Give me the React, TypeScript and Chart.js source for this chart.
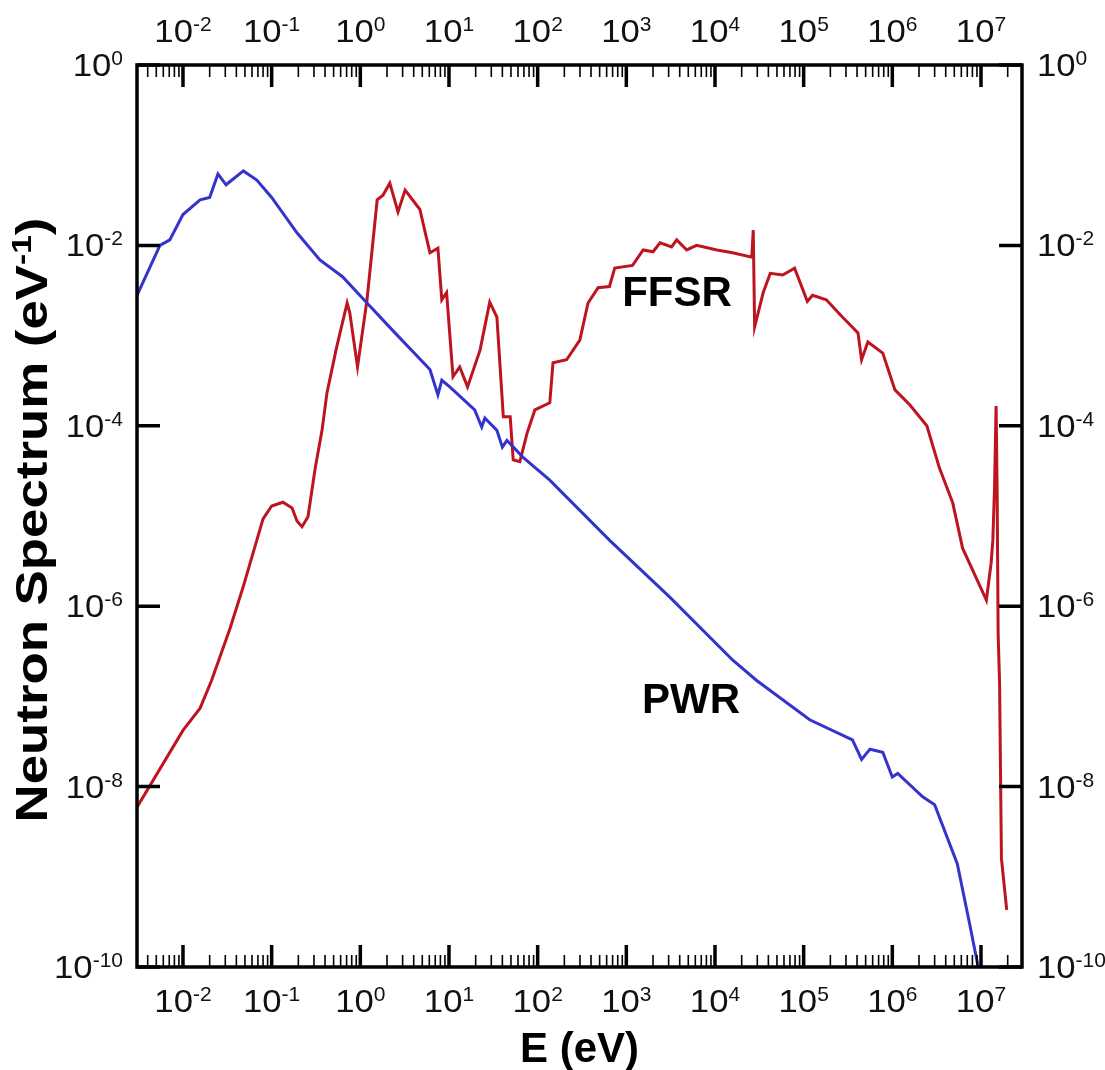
import React, { useEffect, useRef } from "react";
import { Chart, registerables } from "chart.js";

Chart.register(...registerables);

// ---- data ----
const pwrEnergy = [
  3.03e-3, 5.5e-3, 7.1e-3, 1.0e-2, 1.56e-2, 2.0e-2, 2.48e-2, 3.06e-2, 4.8e-2, 6.8e-2,
  0.1, 0.193, 0.35, 0.63, 1.19, 2.3, 6.1, 7.5, 8.3, 10.2,
  19.5, 23.4, 25.4, 34.7, 40, 45, 68, 137, 645,
  3090, 1.6e4, 2.95e4, 1.17e5, 3.55e5, 4.5e5, 5.6e5, 7.8e5, 1.0e6, 1.15e6,
  2.2e6, 3.0e6, 5.4e6, 7.4e6, 9.3e6,
];
const pwrFlux = [
  2.8e-3, 1.0e-2, 1.15e-2, 2.2e-2, 3.2e-2, 3.4e-2, 6.2e-2, 4.7e-2, 6.7e-2, 5.3e-2,
  3.4e-2, 1.38e-2, 6.9e-3, 4.5e-3, 2.3e-3, 1.15e-3, 4.2e-4, 2.2e-4, 3.2e-4, 2.7e-4,
  1.5e-4, 9.7e-5, 1.22e-4, 8.9e-5, 5.8e-5, 6.9e-5, 4.5e-5, 2.5e-5, 5.4e-6,
  1.26e-6, 2.5e-7, 1.5e-7, 5.5e-8, 3.3e-8, 2.0e-8, 2.6e-8, 2.4e-8, 1.28e-8, 1.4e-8,
  7.7e-9, 6.3e-9, 1.4e-9, 3.1e-10, 1.0e-10,
];

const ffsrEnergy = [
  3.03e-3, 1.0e-2, 1.56e-2, 2.1e-2, 3.4e-2, 4.8e-2, 8.0e-2, 0.1, 0.134, 0.17,
  0.193, 0.22, 0.257, 0.31, 0.37, 0.42, 0.54, 0.71, 0.76, 0.93,
  1.19, 1.55, 1.8, 2.15, 2.66, 3.2, 4.7, 5.4, 6.1, 7.5,
  8.3, 9.4, 11.1, 13.2, 16.2, 22.4, 28.8, 34.7, 41, 49,
  53, 63, 76, 93, 137, 149, 212, 299, 370, 480,
  645, 740, 1175, 1550, 2000, 2400, 3240, 3700, 4800, 6200,
  1.05e4, 1.58e4, 2.6e4, 2.7e4, 2.8e4, 3.5e4, 4.2e4, 5.8e4, 7.9e4, 1.1e5,
  1.26e5, 1.8e5, 2.75e5, 4.1e5, 4.5e5, 5.3e5, 7.8e5, 1.07e6, 1.58e6, 2.45e6,
  3.4e6, 4.8e6, 6.2e6, 1.15e7, 1.3e7, 1.36e7, 1.42e7, 1.48e7, 1.52e7, 1.56e7,
  1.62e7, 1.7e7, 1.95e7,
];
const ffsrFlux = [
  5.9e-9, 4.2e-8, 7.4e-8, 1.5e-7, 5.7e-7, 1.67e-6, 9.3e-6, 1.29e-5, 1.42e-5, 1.23e-5,
  8.8e-6, 7.6e-6, 9.8e-6, 3.4e-5, 8.9e-5, 2.3e-4, 7.4e-4, 2.3e-3, 1.8e-3, 4.5e-4,
  2.5e-3, 3.2e-2, 3.6e-2, 4.9e-2, 2.35e-2, 4.1e-2, 2.5e-2, 1.38e-2, 8.3e-3, 9.3e-3,
  2.5e-3, 3.0e-3, 3.5e-4, 4.5e-4, 2.7e-4, 6.9e-4, 2.35e-3, 1.6e-3, 1.26e-4, 1.26e-4,
  4.2e-5, 4.0e-5, 8.3e-5, 1.5e-4, 1.8e-4, 5.0e-4, 5.4e-4, 8.9e-4, 2.3e-3, 3.4e-3,
  3.5e-3, 5.6e-3, 6.0e-3, 8.9e-3, 8.5e-3, 1.07e-2, 9.6e-3, 1.15e-2, 8.9e-3, 1.0e-2,
  8.9e-3, 8.3e-3, 7.4e-3, 1.48e-2, 1.25e-3, 3.0e-3, 4.9e-3, 4.7e-3, 5.6e-3, 2.4e-3,
  2.8e-3, 2.5e-3, 1.6e-3, 1.07e-3, 5.4e-4, 8.5e-4, 6.4e-4, 2.5e-4, 1.7e-4, 1.0e-4,
  3.4e-5, 1.4e-5, 4.4e-6, 1.17e-6, 3.0e-6, 5.4e-6, 2.0e-5, 1.66e-4, 2.0e-5, 5.0e-7,
  1.4e-7, 1.6e-9, 4.3e-10,
];

const xExponents = [-2, -1, 0, 1, 2, 3, 4, 5, 6, 7];
const yExponents = [0, -2, -4, -6, -8, -10];
const xMin = 3.03e-3;
const xMax = 2.9e7;
const yMin = 1e-10;
const yMax = 1;
const seriesNames = ["FFSR", "PWR"];
const xTitle = "E (eV)";
const yTitle = "Neutron Spectrum (eV";

const FONT = '"Liberation Sans", Arial, sans-serif';

function drawPower(ctx: CanvasRenderingContext2D, exp: number, x: number, baseline: number, align: "center" | "left" | "right") {
  const stretch = 1.12;
  const mainFont = `31px ${FONT}`;
  const supFont = `21px ${FONT}`;
  const expStr = exp < 0 ? "-" + Math.abs(exp) : String(exp);
  ctx.font = mainFont;
  const w1 = ctx.measureText("10").width * stretch;
  ctx.font = supFont;
  const w2 = ctx.measureText(expStr).width;
  const total = w1 + w2;
  let start = x;
  if (align === "center") start = x - total / 2;
  else if (align === "right") start = x - total;
  ctx.textAlign = "left";
  ctx.textBaseline = "alphabetic";
  ctx.fillStyle = "#111";
  ctx.save();
  ctx.translate(start, baseline);
  ctx.scale(stretch, 1);
  ctx.font = mainFont;
  ctx.fillText("10", 0, 0);
  ctx.restore();
  ctx.font = supFont;
  ctx.fillText(expStr, start + w1, baseline - 11);
}

const framePlugin = {
  id: "frameAxes",
  afterDraw(chart: any) {
    const ctx: CanvasRenderingContext2D = chart.ctx;
    const { left, right, top, bottom } = chart.chartArea;
    const xs = chart.scales.x;
    const ys = chart.scales.y;
    ctx.save();
    ctx.strokeStyle = "#000";
    ctx.lineCap = "butt";

    // x ticks (top & bottom, inward)
    for (let d = -3; d <= 7; d++) {
      for (let m = 1; m <= 9; m++) {
        const v = m * Math.pow(10, d);
        if (v < xMin * 0.999 || v > xMax) continue;
        const px = xs.getPixelForValue(v);
        const major = m === 1;
        const len = major ? 22 : 12;
        ctx.lineWidth = major ? 3.5 : 1.6;
        ctx.beginPath();
        ctx.moveTo(px, bottom);
        ctx.lineTo(px, bottom - len);
        ctx.moveTo(px, top);
        ctx.lineTo(px, top + len);
        ctx.stroke();
      }
    }
    // y ticks (left & right, inward)
    for (const e of yExponents) {
      const py = ys.getPixelForValue(Math.pow(10, e));
      ctx.lineWidth = 3.5;
      ctx.beginPath();
      ctx.moveTo(left, py);
      ctx.lineTo(left + 23, py);
      ctx.moveTo(right, py);
      ctx.lineTo(right - 23, py);
      ctx.stroke();
    }
    // frame
    ctx.lineWidth = 3.5;
    ctx.strokeRect(left, top, right - left, bottom - top);

    // tick labels
    for (const e of xExponents) {
      const px = xs.getPixelForValue(Math.pow(10, e));
      drawPower(ctx, e, px, top - 23, "center");
      drawPower(ctx, e, px, bottom + 45, "center");
    }
    for (const e of yExponents) {
      const py = ys.getPixelForValue(Math.pow(10, e));
      drawPower(ctx, e, left - 14, py + 11, "right");
      drawPower(ctx, e, right + 15, py + 11, "left");
    }

    // axis titles
    ctx.fillStyle = "#000";
    ctx.textBaseline = "alphabetic";
    ctx.font = `bold 42px ${FONT}`;
    ctx.textAlign = "center";
    ctx.fillText(xTitle, (left + right) / 2, bottom + 95);

    ctx.save();
    ctx.translate(47, 520);
    ctx.rotate(-Math.PI / 2);
    ctx.scale(1.2, 1);
    const mainF = `bold 44px ${FONT}`;
    const supF = `bold 28px ${FONT}`;
    ctx.font = mainF;
    const a = ctx.measureText(yTitle).width;
    ctx.font = supF;
    const b = ctx.measureText("-1").width;
    ctx.font = mainF;
    const c = ctx.measureText(")").width;
    const tot = a + b + c;
    const sx = -tot / 2;
    ctx.textAlign = "left";
    ctx.font = mainF;
    ctx.fillText(yTitle, sx, 0);
    ctx.font = supF;
    ctx.fillText("-1", sx + a, -16);
    ctx.font = mainF;
    ctx.fillText(")", sx + a + b, 0);
    ctx.restore();

    // series labels
    ctx.font = `bold 42px ${FONT}`;
    ctx.textAlign = "center";
    ctx.fillText(seriesNames[0], 677, 306);
    ctx.fillText(seriesNames[1], 691, 713);
    ctx.restore();
  },
};

export default function App() {
  const canvasRef = useRef<HTMLCanvasElement | null>(null);
  useEffect(() => {
    if (!canvasRef.current) return;
    const chart = new Chart(canvasRef.current, {
      type: "line",
      data: {
        datasets: [
          {
            label: seriesNames[1],
            data: pwrEnergy.map((e, i) => ({ x: e, y: pwrFlux[i] })),
            borderColor: "#3434cc",
            borderWidth: 3,
            pointRadius: 0,
            tension: 0,
            fill: false,
          },
          {
            label: seriesNames[0],
            data: ffsrEnergy.map((e, i) => ({ x: e, y: ffsrFlux[i] })),
            borderColor: "#be1420",
            borderWidth: 3,
            pointRadius: 0,
            tension: 0,
            fill: false,
          },
        ],
      },
      options: {
        responsive: false,
        animation: false,
        events: [],
        layout: { padding: { left: 137, top: 65, right: 83, bottom: 103 } },
        scales: {
          x: { type: "logarithmic", min: xMin, max: xMax, display: false },
          y: { type: "logarithmic", min: yMin, max: yMax, display: false },
        },
        plugins: { legend: { display: false }, tooltip: { enabled: false } },
      },
      plugins: [framePlugin],
    });
    return () => chart.destroy();
  }, []);
  return (
    <div style={{ position: "absolute", left: 0, top: 0, width: 1105, height: 1070, background: "#fff" }}>
      <canvas ref={canvasRef} width={1105} height={1070} />
    </div>
  );
}
